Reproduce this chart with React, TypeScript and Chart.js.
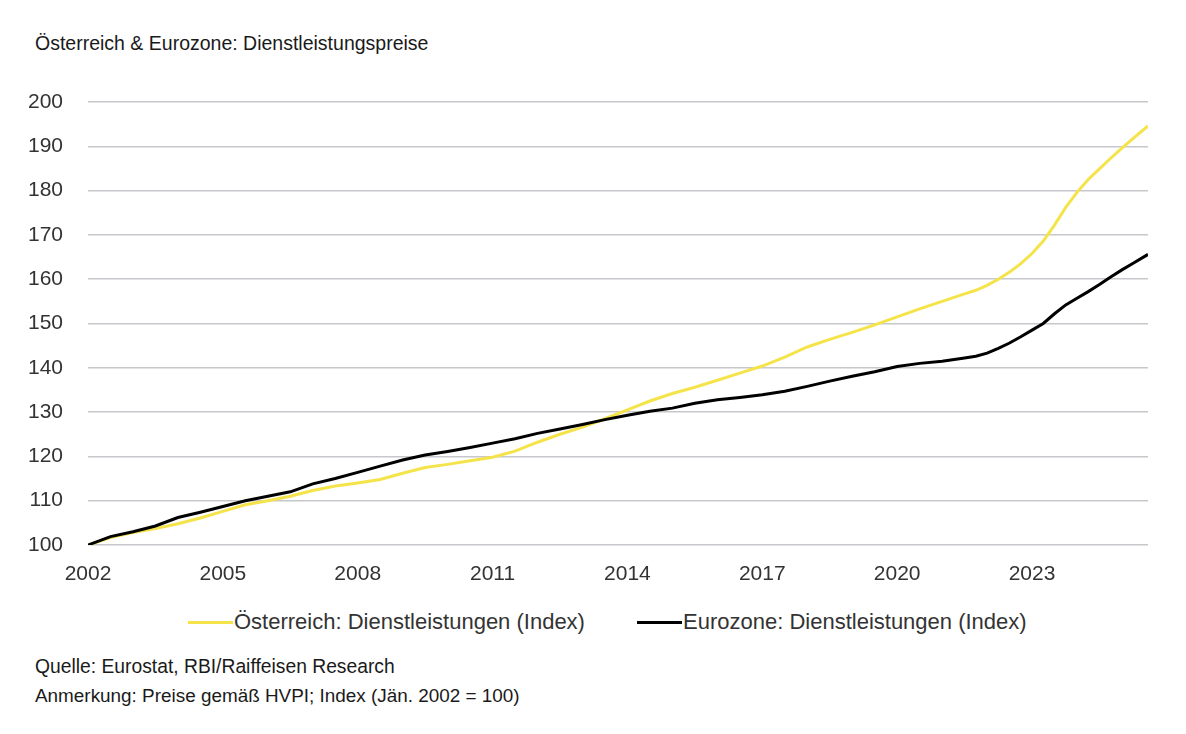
import { useEffect, useRef } from "react";
import { Chart, registerables } from "chart.js";

Chart.register(...registerables);

const FONT = '"Liberation Sans", Arial, sans-serif';

// Decimal years (Jan 2002 = 2002.0)
const timePoints = [
  2002.0, 2002.5, 2003.0, 2003.5, 2004.0, 2004.5, 2005.0, 2005.5, 2006.0, 2006.5,
  2007.0, 2007.5, 2008.0, 2008.5, 2009.0, 2009.5, 2010.0, 2010.5, 2011.0, 2011.5,
  2012.0, 2012.5, 2013.0, 2013.5, 2014.0, 2014.5, 2015.0, 2015.5, 2016.0, 2016.5,
  2017.0, 2017.5, 2018.0, 2018.5, 2019.0, 2019.5, 2020.0, 2020.5, 2021.0, 2021.5,
  2021.75, 2022.0, 2022.25, 2022.5, 2022.75, 2023.0, 2023.25, 2023.5, 2023.75,
  2024.0, 2024.25, 2024.5, 2024.75, 2025.0, 2025.25, 2025.58,
];

const austria = [
  100.0, 101.7, 102.8, 103.7, 104.8, 106.1, 107.6, 109.1, 110.0, 111.0,
  112.3, 113.3, 114.0, 114.8, 116.2, 117.5, 118.2, 119.0, 119.8, 121.2,
  123.2, 125.0, 126.6, 128.5, 130.5, 132.5, 134.2, 135.6, 137.2, 138.8,
  140.4, 142.4, 144.7, 146.4, 148.0, 149.7, 151.5, 153.3, 155.0, 156.7,
  157.5, 158.6, 160.0, 161.6, 163.5, 165.8, 168.6, 172.2, 176.2,
  179.6, 182.5, 184.9, 187.3, 189.6, 191.8, 194.6,
];

const eurozone = [
  100.0, 101.9, 103.0, 104.3, 106.2, 107.4, 108.7, 110.0, 111.0, 112.0,
  113.8, 115.0, 116.4, 117.8, 119.2, 120.3, 121.1, 122.0, 123.0, 124.0,
  125.2, 126.2, 127.2, 128.3, 129.3, 130.2, 130.9, 132.0, 132.8, 133.3,
  133.9, 134.7, 135.8, 137.0, 138.1, 139.1, 140.3, 141.0, 141.5, 142.2,
  142.6, 143.3, 144.4, 145.6, 147.0, 148.5, 150.0, 152.2, 154.2,
  155.7, 157.2, 158.8, 160.5, 162.1, 163.6, 165.6,
];

const xTickYears = [2002, 2005, 2008, 2011, 2014, 2017, 2020, 2023];
const seriesNames = [
  "Österreich: Dienstleistungen (Index)",
  "Eurozone: Dienstleistungen (Index)",
];
const colors = ["#F5E34A", "#000000"];

export default function App() {
  const ref = useRef<HTMLCanvasElement>(null);

  useEffect(() => {
    const chart = new Chart(ref.current!, {
      type: "line",
      data: {
        datasets: [
          {
            label: seriesNames[0],
            data: timePoints.map((t, i) => ({ x: t, y: austria[i] })),
            borderColor: colors[0],
            backgroundColor: colors[0],
            borderWidth: 3,
            pointRadius: 0,
            tension: 0,
            order: 1,
          },
          {
            label: seriesNames[1],
            data: timePoints.map((t, i) => ({ x: t, y: eurozone[i] })),
            borderColor: colors[1],
            backgroundColor: colors[1],
            borderWidth: 3,
            pointRadius: 0,
            tension: 0,
            order: 0,
          },
        ],
      },
      options: {
        animation: false,
        responsive: true,
        maintainAspectRatio: false,
        layout: { padding: { top: 102, right: 38, left: 0, bottom: 0 } },
        plugins: {
          legend: { display: false },
          tooltip: { enabled: false },
          title: { display: false },
        },
        scales: {
          x: {
            type: "linear",
            min: 2002,
            max: 2025.58,
            afterBuildTicks: (scale: any) => {
              scale.ticks = xTickYears.map((v) => ({ value: v }));
            },
            afterFit: (scale: any) => {
              scale.height = 55;
            },
            grid: { display: false, drawTicks: false },
            border: { display: false },
            ticks: {
              padding: 17,
              maxRotation: 0,
              autoSkip: false,
              color: "#333333",
              font: { family: FONT, size: 21 },
              callback: (v: any) => String(v),
            },
          },
          y: {
            min: 100,
            max: 200,
            afterFit: (scale: any) => {
              scale.width = 88;
            },
            grid: { color: "#C6C8CC", lineWidth: 1.5, drawTicks: false },
            border: { display: false },
            ticks: {
              stepSize: 10,
              padding: 25,
              color: "#333333",
              font: { family: FONT, size: 21 },
              callback: (v: any) => String(v),
            },
          },
        },
      },
    });
    return () => chart.destroy();
  }, []);

  const textBase: any = {
    position: "absolute",
    whiteSpace: "nowrap",
    fontFamily: FONT,
    color: "#1a1a1a",
  };

  return (
    <div
      style={{
        position: "fixed",
        left: 0,
        top: 0,
        width: 1186,
        height: 734,
        background: "#ffffff",
        overflow: "hidden",
      }}
    >
      <div style={{ ...textBase, left: 35, top: 30, fontSize: 19.5, lineHeight: "26px" }}>
        Österreich &amp; Eurozone: Dienstleistungspreise
      </div>
      <div style={{ position: "absolute", left: 0, top: 0, width: 1186, height: 600 }}>
        <canvas ref={ref} />
      </div>
      <div style={{ position: "absolute", left: 188, top: 621, width: 45, height: 3, background: colors[0] }} />
      <div style={{ ...textBase, left: 234, top: 609, fontSize: 22, lineHeight: "26px", color: "#333333" }}>
        {seriesNames[0]}
      </div>
      <div style={{ position: "absolute", left: 637, top: 621, width: 45, height: 3, background: colors[1] }} />
      <div style={{ ...textBase, left: 683, top: 609, fontSize: 22, lineHeight: "26px", color: "#333333" }}>
        {seriesNames[1]}
      </div>
      <div style={{ ...textBase, left: 35, top: 654, fontSize: 19.3, lineHeight: "26px" }}>
        Quelle: Eurostat, RBI/Raiffeisen Research
      </div>
      <div style={{ ...textBase, left: 35, top: 683, fontSize: 18.9, lineHeight: "26px" }}>
        Anmerkung: Preise gemäß HVPI; Index (Jän. 2002 = 100)
      </div>
    </div>
  );
}
